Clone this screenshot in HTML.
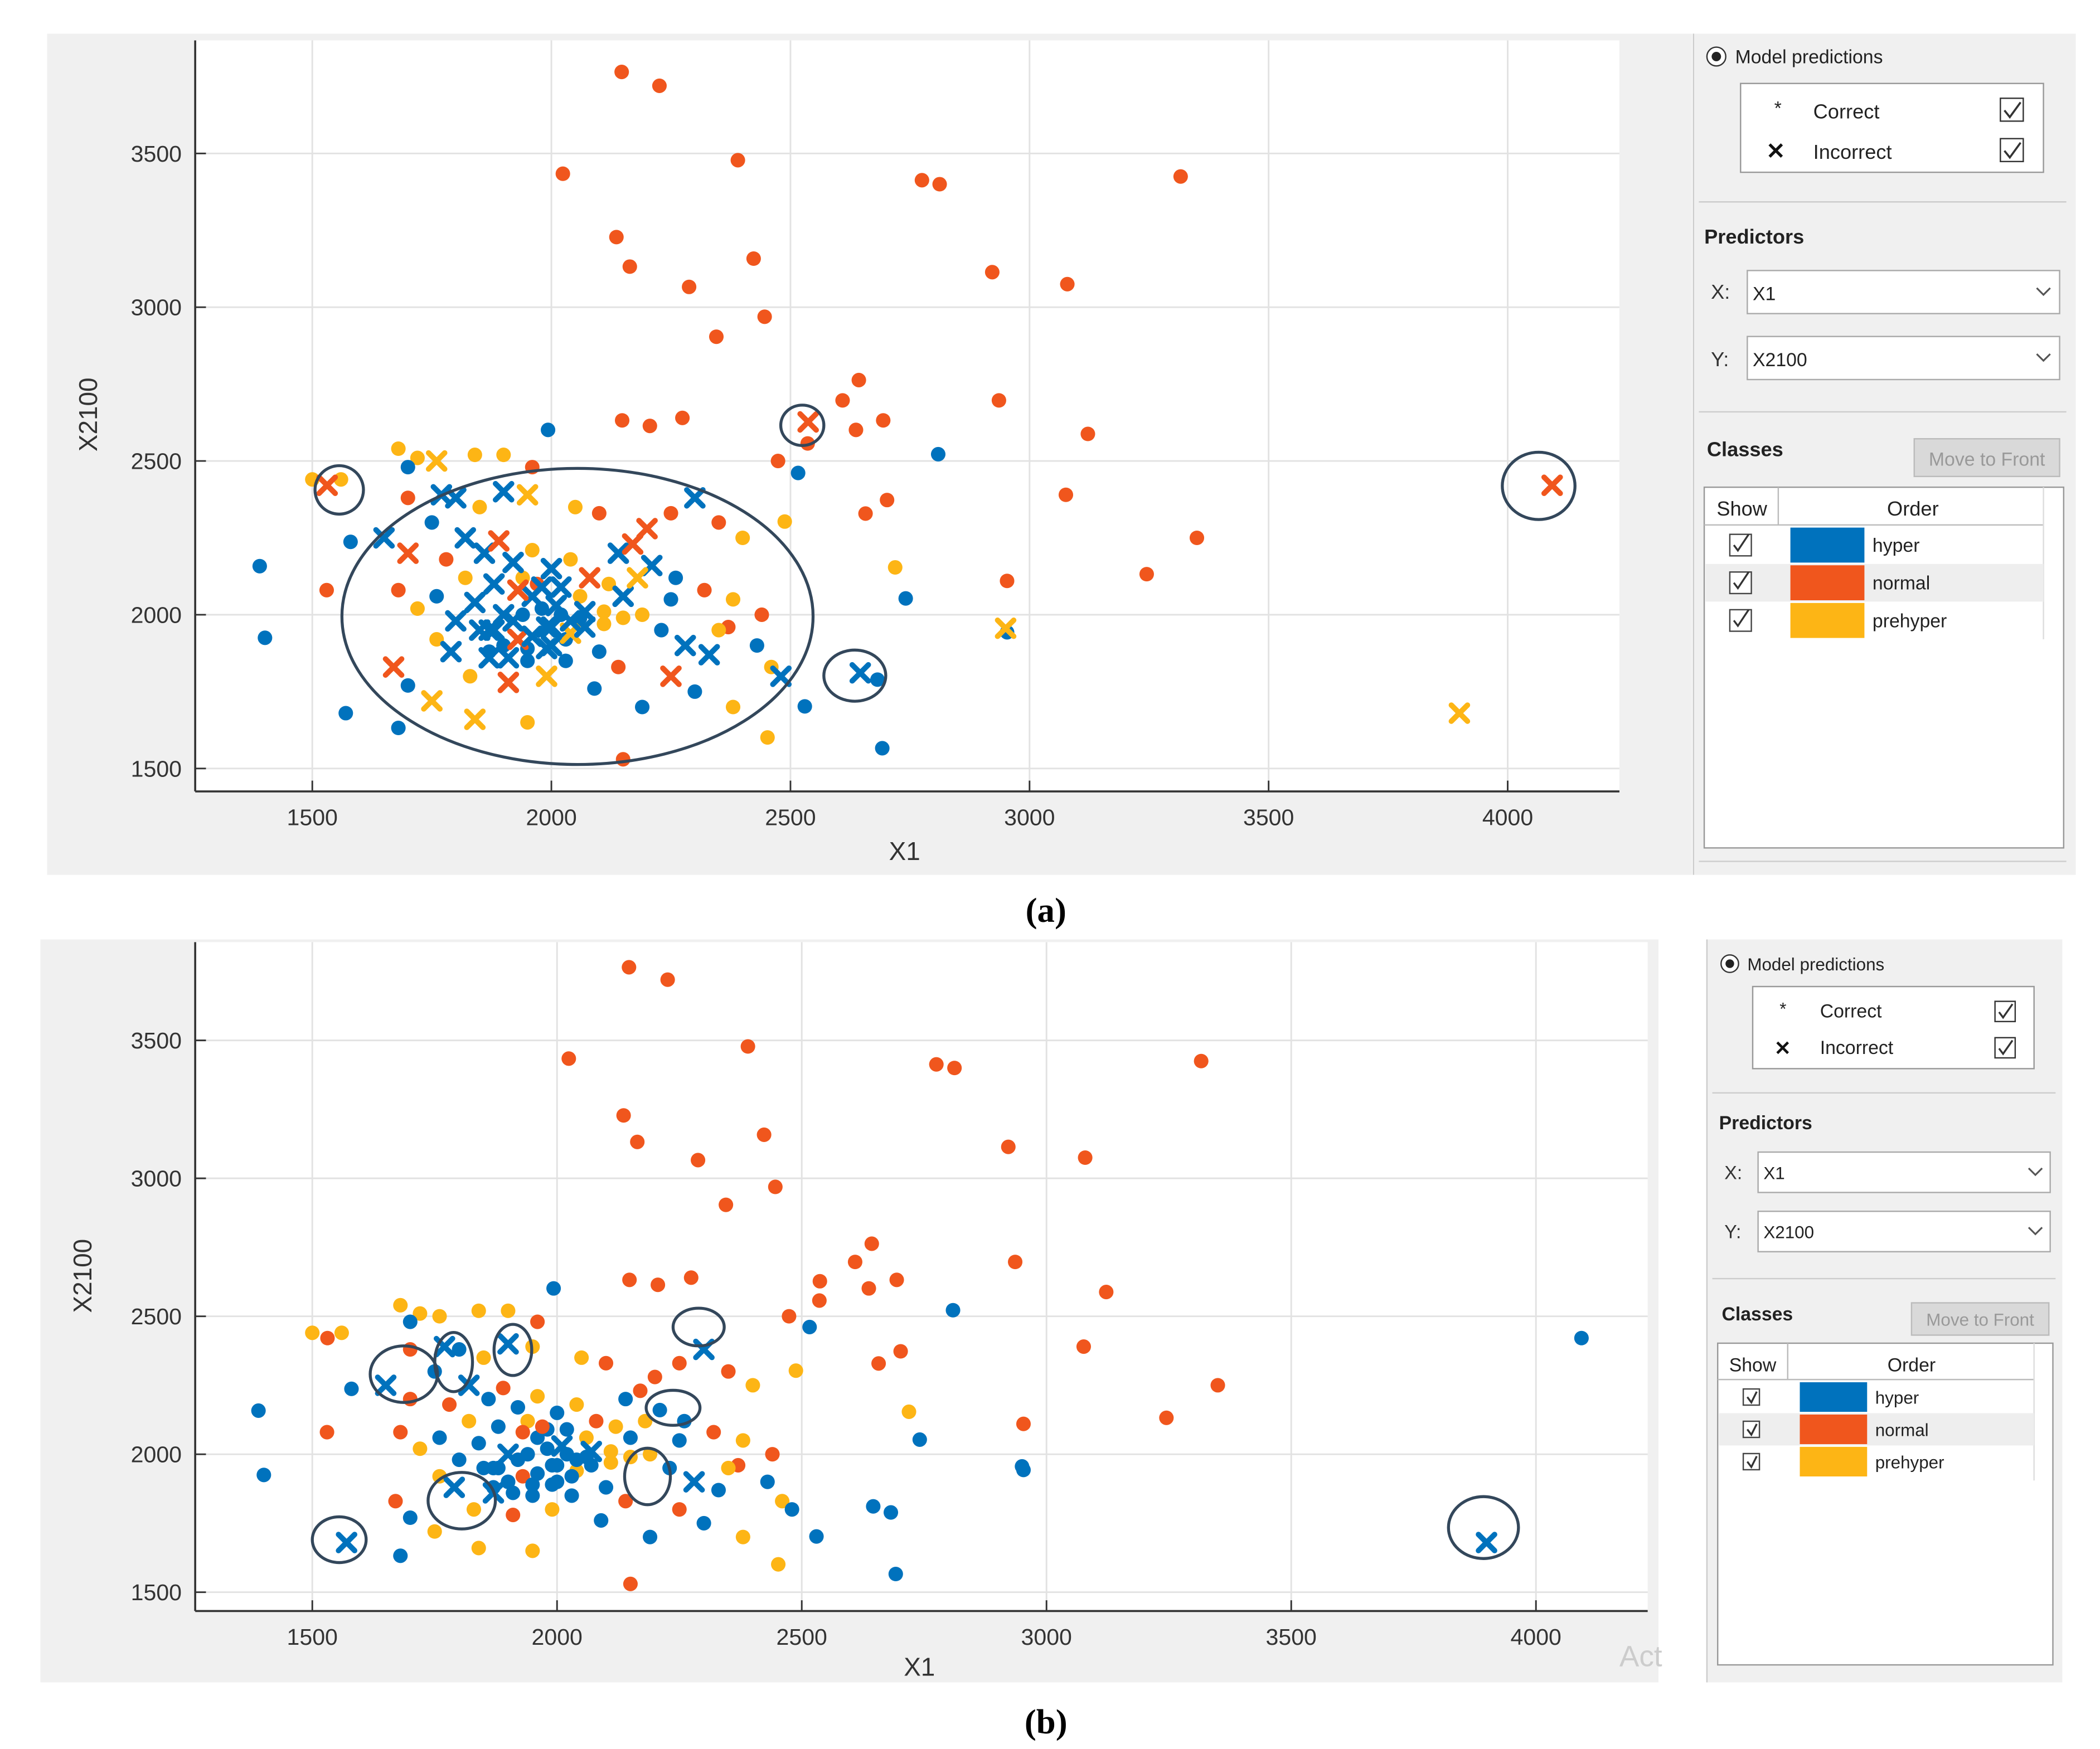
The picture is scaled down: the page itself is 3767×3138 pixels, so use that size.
<!DOCTYPE html>
<html><head><meta charset="utf-8"><style>
html,body{margin:0;padding:0;background:#fff;}
svg{display:block;font-family:"Liberation Sans",sans-serif;}
</style></head><body>
<svg id="fig" width="3767" height="3138" viewBox="0 0 1560 1299.5" xmlns="http://www.w3.org/2000/svg">
<rect x="0" y="0" width="1560" height="1300" fill="#fff"/>
<g>
<rect x="35" y="25" width="1222" height="625" fill="#f0f0f0"/>
<rect x="145" y="30" width="1058" height="558" fill="#fff"/>
<g id="gridA"></g>
<line x1="145" y1="30" x2="145" y2="588" stroke="#333" stroke-width="1.5"/>
<line x1="145" y1="588" x2="1203" y2="588" stroke="#333" stroke-width="1.5"/>
<g id="ptsA"></g>
<g fill="none" stroke="#33475b" stroke-width="2.2">
<ellipse cx="429" cy="458" rx="175" ry="110"/>
<ellipse cx="252" cy="364" rx="18" ry="18"/>
<ellipse cx="596" cy="316" rx="16" ry="15"/>
<ellipse cx="1143" cy="361" rx="27" ry="25"/>
<ellipse cx="635" cy="502" rx="23" ry="19"/>
</g>
<text x="672" y="639" font-size="19" text-anchor="middle" fill="#333">X1</text>
<text x="0" y="0" font-size="19" text-anchor="middle" fill="#333" transform="translate(72,308) rotate(-90)">X2100</text>
</g>
<g>
<rect x="1258" y="25" width="284" height="625" fill="#f0f0f0"/>
<line x1="1258" y1="25" x2="1258" y2="650" stroke="#ccc"/>
<circle cx="1275" cy="42" r="7" fill="#fff" stroke="#333"/><circle cx="1275" cy="42" r="3.5" fill="#222"/>
<text x="1289" y="47" font-size="14" fill="#222">Model predictions</text>
<rect x="1293" y="62" width="225" height="66" fill="#fff" stroke="#999"/>
<text x="1318" y="85" font-size="14" fill="#222">*</text>
<text x="1347" y="88" font-size="15" fill="#222">Correct</text>
<text x="1312" y="118" font-size="17" font-weight="bold" fill="#111">✕</text>
<text x="1347" y="118" font-size="15" fill="#222">Incorrect</text>
<rect x="1486" y="73" width="17" height="17" fill="#fff" stroke="#333"/><path d="M1489 82 l4 5 l8 -11" fill="none" stroke="#333" stroke-width="1.5"/>
<rect x="1486" y="103" width="17" height="17" fill="#fff" stroke="#333"/><path d="M1489 112 l4 5 l8 -11" fill="none" stroke="#333" stroke-width="1.5"/>
<line x1="1262" y1="150" x2="1535" y2="150" stroke="#ccc"/>
<text x="1266" y="181" font-size="15" font-weight="bold" fill="#222">Predictors</text>
<text x="1271" y="222" font-size="15" fill="#333">X:</text>
<rect x="1298" y="201" width="232" height="32" fill="#fff" stroke="#aaa"/>
<text x="1302" y="223" font-size="14" fill="#222">X1</text><path d="M1513 214 l5 5 l5 -5" fill="none" stroke="#555" stroke-width="1.3"/>
<text x="1271" y="272" font-size="15" fill="#333">Y:</text>
<rect x="1298" y="250" width="232" height="32" fill="#fff" stroke="#aaa"/>
<text x="1302" y="272" font-size="14" fill="#222">X2100</text><path d="M1513 263 l5 5 l5 -5" fill="none" stroke="#555" stroke-width="1.3"/>
<line x1="1262" y1="306" x2="1535" y2="306" stroke="#ccc"/>
<text x="1268" y="339" font-size="15" font-weight="bold" fill="#222">Classes</text>
<rect x="1422" y="326" width="108" height="28" fill="#d9d9d9" stroke="#bbb"/>
<text x="1476" y="346" font-size="14" fill="#999" text-anchor="middle">Move to Front</text>
<rect x="1266" y="362" width="267" height="268" fill="#fff" stroke="#999"/>
<line x1="1266" y1="390" x2="1518" y2="390" stroke="#bbb"/><line x1="1321" y1="362" x2="1321" y2="390" stroke="#bbb"/><line x1="1518" y1="362" x2="1518" y2="475" stroke="#ddd"/>
<text x="1294" y="383" font-size="15" fill="#222" text-anchor="middle">Show</text>
<text x="1421" y="383" font-size="15" fill="#222" text-anchor="middle">Order</text>
<rect x="1267" y="419" width="251" height="28" fill="#eee"/>
<g id="legendA"></g>
<line x1="1262" y1="640" x2="1535" y2="640" stroke="#ccc"/>
</g>
<text x="777" y="685" font-size="26" font-weight="bold" text-anchor="middle" font-family="Liberation Serif, serif">(a)</text>

<g>
<rect x="30" y="698" width="1202" height="552" fill="#f0f0f0"/>
<rect x="145" y="700" width="1079" height="497" fill="#fff"/>
<g id="gridB"></g>
<line x1="145" y1="700" x2="145" y2="1197" stroke="#333" stroke-width="1.5"/>
<line x1="145" y1="1197" x2="1224" y2="1197" stroke="#333" stroke-width="1.5"/>
<g id="ptsB"></g>
<g fill="none" stroke="#33475b" stroke-width="2.2">
<ellipse cx="300" cy="1021" rx="25" ry="21"/>
<ellipse cx="337" cy="1012" rx="14" ry="22"/>
<ellipse cx="381" cy="1003" rx="14" ry="19"/>
<ellipse cx="519" cy="986" rx="19" ry="14"/>
<ellipse cx="500" cy="1046" rx="20" ry="13"/>
<ellipse cx="481" cy="1097" rx="17" ry="21"/>
<ellipse cx="343" cy="1115" rx="25" ry="21"/>
<ellipse cx="252" cy="1144" rx="20" ry="17"/>
<ellipse cx="1102" cy="1135" rx="26" ry="23"/>
</g>
<text x="683" y="1245" font-size="19" text-anchor="middle" fill="#333">X1</text>
<text x="0" y="0" font-size="19" text-anchor="middle" fill="#333" transform="translate(68,948) rotate(-90)">X2100</text>
<text x="1203" y="1238" font-size="22" fill="#ccc">Act</text>
</g>
<g>
<rect x="1268" y="698" width="264" height="552" fill="#f0f0f0"/>
<line x1="1268" y1="698" x2="1268" y2="1250" stroke="#ccc"/>
<circle cx="1285" cy="716" r="6.5" fill="#fff" stroke="#333"/><circle cx="1285" cy="716" r="3.2" fill="#222"/>
<text x="1298" y="721" font-size="13" fill="#222">Model predictions</text>
<rect x="1302" y="733" width="209" height="61" fill="#fff" stroke="#999"/>
<text x="1322" y="754" font-size="13" fill="#222">*</text>
<text x="1352" y="756" font-size="14" fill="#222">Correct</text>
<text x="1318" y="784" font-size="15" font-weight="bold" fill="#111">✕</text>
<text x="1352" y="783" font-size="14" fill="#222">Incorrect</text>
<rect x="1482" y="744" width="15" height="15" fill="#fff" stroke="#333"/><path d="M1485 752 l3 4 l7 -10" fill="none" stroke="#333" stroke-width="1.4"/>
<rect x="1482" y="771" width="15" height="15" fill="#fff" stroke="#333"/><path d="M1485 779 l3 4 l7 -10" fill="none" stroke="#333" stroke-width="1.4"/>
<line x1="1272" y1="812" x2="1527" y2="812" stroke="#ccc"/>
<text x="1277" y="839" font-size="14" font-weight="bold" fill="#222">Predictors</text>
<text x="1281" y="876" font-size="14" fill="#333">X:</text>
<rect x="1306" y="856" width="217" height="30" fill="#fff" stroke="#aaa"/>
<text x="1310" y="876" font-size="13" fill="#222">X1</text><path d="M1507 868 l5 5 l5 -5" fill="none" stroke="#555" stroke-width="1.3"/>
<text x="1281" y="920" font-size="14" fill="#333">Y:</text>
<rect x="1306" y="900" width="217" height="30" fill="#fff" stroke="#aaa"/>
<text x="1310" y="920" font-size="13" fill="#222">X2100</text><path d="M1507 912 l5 5 l5 -5" fill="none" stroke="#555" stroke-width="1.3"/>
<line x1="1272" y1="950" x2="1527" y2="950" stroke="#ccc"/>
<text x="1279" y="981" font-size="14" font-weight="bold" fill="#222">Classes</text>
<rect x="1420" y="968" width="102" height="24" fill="#d9d9d9" stroke="#bbb"/>
<text x="1471" y="985" font-size="13" fill="#999" text-anchor="middle">Move to Front</text>
<rect x="1276" y="998" width="249" height="239" fill="#fff" stroke="#999"/>
<line x1="1276" y1="1025" x2="1511" y2="1025" stroke="#bbb"/><line x1="1328" y1="998" x2="1328" y2="1025" stroke="#bbb"/><line x1="1511" y1="998" x2="1511" y2="1100" stroke="#ddd"/>
<text x="1302" y="1019" font-size="14" fill="#222" text-anchor="middle">Show</text>
<text x="1420" y="1019" font-size="14" fill="#222" text-anchor="middle">Order</text>
<rect x="1277" y="1050" width="234" height="24" fill="#eee"/>
<g id="legendB"></g>
</g>
<text x="777" y="1288" font-size="26" font-weight="bold" text-anchor="middle" font-family="Liberation Serif, serif">(b)</text>
</svg>
<script>
const classNames = ["hyper","normal","prehyper"];
const classColors = ["#0072BD","#F0561D","#FDB515"];
const xTicks = [1500,2000,2500,3000,3500,4000];
const yTicks = [1500,2000,2500,3000,3500];
const ptX = [2147,2226,2024,2390,2775,2812,3316,2136,2164,2423,2288,2446,2345,2922,3079,2643,2609,2936,3122,2694,2637,2536,2474,3076,2702,2657,3350,3245,2953,2148,2206,2274,2537,4093,1531,1993,2809,2516,1390,1401,1580,2741,2953,2682,2530,2692,1680,2646,3899,2950,2719,2488,2452,1570,1500,
1680,1720,1760,1840,1900,1960,1700,1800,1850,1770,1900,1950,2050,2100,2200,2250,2300,2350,2400,1650,1700,1750,1820,1860,1890,1920,1960,2000,2040,2080,2140,2170,2210,2260,2320,2380,1680,1720,1760,1800,1840,1870,1900,1930,1960,1990,2010,2040,2070,2110,2150,2190,2230,2280,2330,2370,2430,2460,1670,1700,1750,1790,1830,1870,1910,1950,1990,2030,2090,2140,2190,2250,2300,2380,1840,1950,1880,1940,1980,2020,2060,1820,1780,2120,2180,1700,1560,1530,2440,2480,2150,1900,1850,1760,2000,2100,2250,2350,
1880,1900,1920,1940,1960,1980,2000,2020,2040,2060,1870,1910,1950,1990,2030,2070,2110,2150,1930,1970];
const ptY = [3765,3720,3434,3478,3413,3400,3425,3228,3132,3158,3066,2969,2904,3114,3075,2763,2697,2697,2588,2632,2601,2557,2500,2390,2373,2329,2250,2132,2110,2632,2614,2640,2627,2421,2421,2601,2522,2461,2158,1925,2237,2053,1943,1789,1702,1566,1632,1811,1680,1956,2154,2303,1601,1680,2440,
2540,2510,2500,2520,2520,2480,2480,2380,2350,2390,2400,2390,2350,2330,2280,2330,2380,2300,2250,2250,2200,2300,2250,2200,2240,2170,2210,2150,2180,2120,2200,2230,2160,2120,2080,2050,2080,2020,2060,1980,2040,1950,2000,1920,2060,1960,2030,1940,2010,1970,2060,2000,1950,1900,1870,1960,1900,1830,1830,1770,1720,1880,1800,1860,1780,1890,1800,1850,1760,1830,1700,1800,1750,1700,1660,1650,2100,2120,2090,2090,2060,2120,2180,2100,2120,2380,2440,2080,2000,1800,1530,1900,1950,1920,1900,1880,2050,1950,
1950,1900,1980,2000,1930,2020,1960,2000,1980,1990,1880,1860,1850,1890,1920,1960,2010,1990,2080,2100];
const classA = [1,1,1,1,1,1,1,1,1,1,1,1,1,1,1,1,1,1,1,1,1,1,1,1,1,1,1,1,1,1,1,1,1,1,1,0,0,0,0,0,0,0,0,0,0,0,0,0,2,2,2,2,2,0,2,
2,2,2,2,2,1,0,0,2,0,0,2,2,1,1,1,0,1,2,0,1,0,0,0,1,0,2,0,2,1,0,1,0,0,1,2,1,2,0,0,0,0,0,1,0,0,0,2,0,2,0,2,0,0,0,1,0,2,1,0,2,0,2,0,1,0,2,0,0,1,0,1,0,2,2,2,0,2,0,0,2,2,1,2,2,1,2,1,1,0,1,0,0,2,0,0,0,2,
0,0,0,0,0,0,0,0,0,0,0,0,0,0,0,0,2,2,1,1];
const markA = [0,0,0,0,0,0,0,0,0,0,0,0,0,0,0,0,0,0,0,0,0,0,0,0,0,0,0,0,0,0,0,0,1,1,1,0,0,0,0,0,0,0,0,0,0,0,0,1,1,1,0,0,0,0,0,
0,0,1,0,0,0,0,1,0,1,1,1,0,0,1,0,1,0,0,1,1,0,1,1,1,1,0,1,0,1,1,1,1,0,0,0,0,0,0,1,1,1,1,1,1,1,1,1,1,0,1,0,0,1,1,0,0,0,1,0,1,1,0,1,1,0,1,0,0,0,0,1,0,0,1,0,1,0,1,1,0,0,0,0,1,0,0,0,0,1,0,0,1,0,1,0,0,0,
1,0,1,0,1,0,1,0,1,0,0,1,0,1,0,1,0,0,1,0];
const classB = [1,1,1,1,1,1,1,1,1,1,1,1,1,1,1,1,1,1,1,1,1,1,1,1,1,1,1,1,1,1,1,1,1,0,1,0,0,0,0,0,0,0,0,0,0,0,0,0,0,0,2,2,2,0,2,
2,2,2,2,2,1,0,0,2,0,0,2,2,1,1,1,0,1,2,0,1,0,0,0,1,0,2,0,2,1,0,1,0,0,1,2,1,2,0,0,0,0,0,1,0,0,0,2,0,2,0,2,0,0,0,1,0,2,1,0,2,0,2,0,1,0,2,0,0,1,0,1,0,2,2,2,0,2,0,0,2,2,1,2,2,1,2,1,1,0,1,0,0,2,0,0,0,2,
0,0,0,0,0,0,0,0,0,0,0,0,0,0,0,0,2,2,1,1];
const markB = [0,0,0,0,0,0,0,0,0,0,0,0,0,0,0,0,0,0,0,0,0,0,0,0,0,0,0,0,0,0,0,0,0,0,0,0,0,0,0,0,0,0,0,0,0,0,0,0,1,0,0,0,0,1,0,
0,0,0,0,0,0,0,0,0,1,1,0,0,0,0,0,1,0,0,1,0,0,1,0,0,0,0,0,0,0,0,0,0,0,0,0,0,0,0,0,0,0,1,0,0,0,1,0,1,0,0,0,0,1,0,0,0,0,0,0,0,1,0,1,0,0,0,0,0,0,0,0,0,0,0,0,0,0,0,0,0,0,0,0,0,0,0,0,0,0,0,0,0,0,0,0,0,0,
0,0,0,0,0,0,0,0,0,0,0,0,0,0,0,0,0,0,0,0];

const NS="http://www.w3.org/2000/svg";
function mk(tag,attrs,parent){const e=document.createElementNS(NS,tag);for(const k in attrs)e.setAttribute(k,attrs[k]);parent.appendChild(e);return e;}
function makeScale(d0,d1,p0,p1){return v=>p0+(v-d0)*(p1-p0)/(d1-d0);}
function drawPanel(cfg,classes,marks){
  const sx=makeScale(1500,4000,cfg.x1500,cfg.x4000), sy=makeScale(1500,3500,cfg.y1500,cfg.y3500);
  const grid=document.getElementById(cfg.grid);
  xTicks.forEach(t=>{
    const l=mk('line',{x1:sx(t),x2:sx(t),y1:cfg.top,y2:cfg.bottom,stroke:'#e2e2e2','stroke-width':1.2},grid);
    
    
    mk('line',{x1:sx(t),x2:sx(t),y1:cfg.bottom-8,y2:cfg.bottom,stroke:'#333','stroke-width':1.2},grid);
    const tx=mk('text',{x:sx(t),y:cfg.bottom+25,'font-size':17,'text-anchor':'middle',fill:'#333'},grid);
    tx.textContent=t;
    
    
  });
  yTicks.forEach(t=>{
    const l=mk('line',{x1:cfg.left,x2:cfg.right,y1:sy(t),y2:sy(t),stroke:'#e2e2e2','stroke-width':1.2},grid);
    
    
    mk('line',{x1:cfg.left,x2:cfg.left+8,y1:sy(t),y2:sy(t),stroke:'#333','stroke-width':1.2},grid);
    const tx=mk('text',{x:cfg.left-10,y:sy(t)+6,'font-size':17,'text-anchor':'end',fill:'#333'},grid);
    tx.textContent=t;
    
    
  });
  const g=document.getElementById(cfg.pts);
  const order=[];
  for(let i=0;i<ptX.length;i++)order.push(i);
  order.sort((a,b)=>(marks[a]||0)-(marks[b]||0));
  order.forEach(i=>{
    const x=sx(ptX[i]),y=sy(ptY[i]),c=classColors[classes[i]||0];
    if(marks[i]){
      const s=6;
      const p=mk('path',{d:`M${x-s} ${y-s}L${x+s} ${y+s}M${x-s} ${y+s}L${x+s} ${y-s}`,stroke:c,'stroke-width':4,'stroke-linecap':'round',fill:'none'},g);
      
      
    } else {
      const p=mk('circle',{cx:x,cy:y,r:5.4,fill:c},g);
      
      
    }
  });
}
drawPanel({grid:'gridA',pts:'ptsA',x1500:232,x4000:1120,y1500:571,y3500:114,left:145,right:1203,top:30,bottom:588},classA,markA);
drawPanel({grid:'gridB',pts:'ptsB',x1500:232,x4000:1141,y1500:1183,y3500:773,left:145,right:1224,top:700,bottom:1197},classB,markB);

function drawLegend(id,cbx,sw,sww,y0,rh,fs){
  const g=document.getElementById(id);
  classNames.forEach((n,i)=>{
    const y=y0+i*rh;
    const cb=mk('rect',{x:cbx,y:y-rh/2+6,width:rh-12,height:rh-12,fill:'#fff',stroke:'#444'},g);
    
    
    mk('path',{d:`M${cbx+3} ${y} l3 4 l${rh-20} -${rh-16}`,fill:'none',stroke:'#333','stroke-width':1.4},g);
    const s=mk('rect',{x:sw,y:y-rh/2+1,width:sww,height:rh-2,fill:classColors[i]},g);
    
    
    const t=mk('text',{x:sw+sww+6,y:y+5,'font-size':fs,fill:'#222'},g);
    t.textContent=n;
    
    
  });
}
drawLegend('legendA',1285,1330,55,405,28,14);
drawLegend('legendB',1295,1337,50,1038,24,13);
</script>
</body></html>
